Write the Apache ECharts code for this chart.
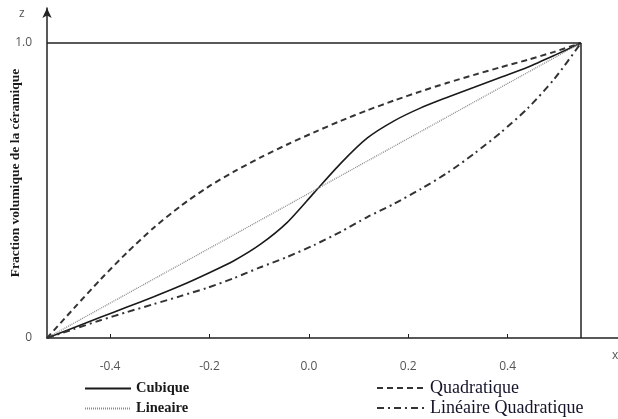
<!DOCTYPE html>
<html>
<head>
    <meta charset="UTF-8">
    <title>Fraction volumique</title>
    <script src="https://cdn.jsdelivr.net/npm/echarts@6/dist/echarts.min.js"></script>
    <style>
        html, body { margin: 0; padding: 0; background: #fff; }
        #chart { width: 618px; height: 419px; }
    </style>
</head>
<body>
<div id="chart"></div>
<script>
    // z/h positions where the curves were read
    var zValues = [-0.5, -0.45, -0.4, -0.35, -0.3, -0.25, -0.2, -0.15, -0.1, -0.05, 0,
        0.05, 0.1, 0.15, 0.2, 0.25, 0.3, 0.35, 0.4, 0.45, 0.5];
    var cubique = [0, 0.035, 0.07, 0.105, 0.14, 0.177, 0.218, 0.262, 0.318, 0.392, 0.492,
        0.592, 0.678, 0.736, 0.78, 0.816, 0.85, 0.884, 0.918, 0.958, 1];
    var lineaire = [0, 0.05, 0.1, 0.15, 0.2, 0.25, 0.3, 0.35, 0.4, 0.45, 0.5,
        0.55, 0.6, 0.65, 0.7, 0.75, 0.8, 0.85, 0.9, 0.95, 1];
    var quadratique = [0, 0.1, 0.198, 0.29, 0.374, 0.447, 0.51, 0.564, 0.612, 0.656, 0.697,
        0.736, 0.772, 0.805, 0.836, 0.865, 0.892, 0.918, 0.943, 0.97, 1];
    var linQuad = [0, 0.03, 0.06, 0.088, 0.115, 0.142, 0.17, 0.203, 0.24, 0.275, 0.315,
        0.36, 0.41, 0.455, 0.505, 0.56, 0.625, 0.697, 0.778, 0.878, 1];
    var xTicks = [-0.4, -0.2, 0, 0.2, 0.4];
    var yTicks = [0, 1];

    function pairs(arr) {
        return zValues.map(function (z, i) { return [z, arr[i]]; });
    }

    var serif = "'Liberation Serif', 'DejaVu Serif', serif";
    var myChart = echarts.init(document.getElementById('chart'), null, {renderer: 'canvas'});

    var option = {
        backgroundColor: '#fff',
        animation: false,
        color: ['#1a1a1a', '#8a8a8a', '#333', '#333'],
        grid: {left: 47, right: 0, top: 8, bottom: 81, outerBoundsMode: 'none', containLabel: false},
        xAxis: [
            {   // axe des données (z de -0.5 à 0.5), caché
                type: 'value', min: -0.5, max: 0.5693, show: false
            },
            {   // axe affiché avec les graduations
                type: 'value', min: -0.527, max: 0.622, position: 'bottom',
                axisLine: {onZero: false, lineStyle: {color: '#222', width: 1.5}},
                axisTick: {show: true, inside: true, length: 4, customValues: xTicks,
                    lineStyle: {color: '#222', width: 1}},
                axisLabel: {customValues: xTicks, margin: 23, fontSize: 12, color: '#555',
                    fontFamily: "'Open Sans', sans-serif",
                    formatter: function (v) { return v.toFixed(1); }},
                splitLine: {show: false}
            }
        ],
        yAxis: {
            type: 'value', min: 0, max: 1.1186,
            name: 'Fraction volumique de la céramique',
            nameLocation: 'middle', nameGap: 24, nameMoveOverlap: false,
            nameTextStyle: {fontFamily: serif, fontWeight: 'bold', fontSize: 13.5, color: '#1a1a1a'},
            axisLine: {show: true, onZero: false, symbol: ['none', 'arrow'], symbolSize: [7, 10],
                lineStyle: {color: '#222', width: 1.5}},
            axisTick: {show: false},
            axisLabel: {customValues: yTicks, margin: 15, fontSize: 12, color: '#555',
                fontFamily: "'Open Sans', sans-serif",
                formatter: function (v) { return v === 0 ? '0' : '1.0'; }},
            splitLine: {show: false}
        },
        legend: [
            {data: ['Cubique'], left: 84, top: 381, padding: 0, itemWidth: 46, itemHeight: 14,
                itemStyle: {opacity: 0},
                textStyle: {fontFamily: serif, fontWeight: 'bold', fontSize: 14.5, color: '#1a1a1a'}},
            {data: ['Lineaire'], left: 84, top: 401, padding: 0, itemWidth: 46, itemHeight: 14,
                itemStyle: {opacity: 0},
                textStyle: {fontFamily: serif, fontWeight: 'bold', fontSize: 14.5, color: '#1a1a1a'}},
            {data: ['Quadratique'], left: 376, top: 379, padding: 0, itemWidth: 48, itemHeight: 14,
                itemStyle: {opacity: 0},
                textStyle: {fontFamily: serif, fontSize: 18, color: '#14142a'}},
            {data: ['Linéaire Quadratique'], left: 376, top: 399, padding: 0, itemWidth: 48, itemHeight: 14,
                itemStyle: {opacity: 0},
                textStyle: {fontFamily: serif, fontSize: 18, color: '#14142a'}}
        ],
        graphic: [
            {type: 'text', left: 19, top: 8, style: {text: 'z', fontSize: 12, fill: '#555',
                fontFamily: "'Open Sans', sans-serif"}},
            {type: 'text', left: 612, top: 350, style: {text: 'x', fontSize: 12, fill: '#555',
                fontFamily: "'Open Sans', sans-serif"}}
        ],
        series: [
            {
                name: 'Cubique', type: 'line', xAxisIndex: 0, data: pairs(cubique),
                smooth: 0.25, symbol: 'none',
                lineStyle: {color: '#1a1a1a', width: 1.6, type: 'solid'},
                markLine: {
                    silent: true, symbol: ['none', 'none'], label: {show: false},
                    lineStyle: {color: '#222', width: 1.5, type: 'solid'},
                    data: [
                        [{coord: [-0.5, 1]}, {coord: [0.5, 1]}],
                        [{coord: [0.5, 0]}, {coord: [0.5, 1]}]
                    ]
                }
            },
            {
                name: 'Lineaire', type: 'line', xAxisIndex: 0, data: pairs(lineaire),
                symbol: 'none',
                lineStyle: {color: '#8a8a8a', width: 1.3, type: [1, 1]}
            },
            {
                name: 'Quadratique', type: 'line', xAxisIndex: 0, data: pairs(quadratique),
                smooth: 0.25, symbol: 'none',
                lineStyle: {color: '#333', width: 2, type: [6, 4]}
            },
            {
                name: 'Linéaire Quadratique', type: 'line', xAxisIndex: 0, data: pairs(linQuad),
                smooth: 0.25, symbol: 'none',
                lineStyle: {color: '#333', width: 2, type: [7, 4, 2, 4]}
            }
        ]
    };
    myChart.setOption(option);
</script>
</body>
</html>
